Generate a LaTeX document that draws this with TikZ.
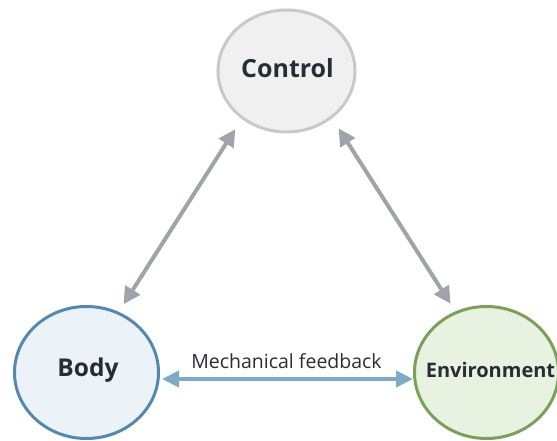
\documentclass[tikz,border=0pt]{standalone}
\usepackage{fontspec}
\setmainfont{Open Sans}
\usetikzlibrary{shapes.geometric,arrows.meta}

\definecolor{ctrlfill}{RGB}{240,240,241}
\definecolor{ctrlline}{RGB}{200,201,204}
\definecolor{bodyfill}{RGB}{236,243,248}
\definecolor{bodyline}{RGB}{84,136,174}
\definecolor{envfill}{RGB}{232,242,224}
\definecolor{envline}{RGB}{122,160,92}
\definecolor{linkgray}{RGB}{160,164,170}
\definecolor{linkblue}{RGB}{125,170,200}
\definecolor{ink}{RGB}{40,44,52}

\tikzset{
  hub/.style={ellipse, line width=3pt, inner sep=0pt},
  hubtext/.style={text=ink, inner sep=0pt, font=\bfseries\fontsize{#1}{#1}\selectfont},
  graylink/.style={draw=linkgray, line width=4pt,
              {Triangle[length=17pt,width=17pt]}-{Triangle[length=17pt,width=17pt]}},
  bluelink/.style={draw=linkblue, line width=4pt,
              {Triangle[length=17pt,width=16pt]}-{Triangle[length=17pt,width=16pt]}},
}

\begin{document}
\begin{tikzpicture}[x=1pt,y=-1pt]
  \useasboundingbox (0,0) rectangle (557,441);
  \clip (0,0) rectangle (557,441);

  % the three hubs
  \node[hub, draw=ctrlline, fill=ctrlfill, minimum width=137pt, minimum height=122pt]
    (ctrl) at (286.5,71) {};
  \node[hub, draw=bodyline, fill=bodyfill, minimum width=144pt, minimum height=132pt]
    (body) at (86.5,372.5) {};
  \node[hub, draw=envline, fill=envfill, minimum width=144pt, minimum height=132pt]
    (env) at (486.5,372.5) {};

  % hub names
  \node[hubtext=25]   (ctrltext) at ([xshift=1pt,yshift=2.7pt]ctrl.center) {Control};
  \node[hubtext=24.5] (bodytext) at ([xshift=1.5pt,yshift=2.5pt]body.center) {Body};
  \node[hubtext=20]   (envtext)  at ([xshift=4pt,yshift=2.2pt]env.center) {Environment};

  % links between the hubs
  \draw[graylink, shorten <=12pt, shorten >=9pt] (ctrl.227) -- (body.62);
  \draw[graylink, shorten <=12pt, shorten >=9pt] (ctrl.314) -- (env.117);
  \draw[bluelink, shorten <=2pt] ([yshift=-6.5pt]body.east) -- ([yshift=-6.5pt]env.west)
    node[midway, anchor=base, yshift=11pt, text=ink, font=\fontsize{19.5}{20}\selectfont] (fb) {Mechanical feedback};
\end{tikzpicture}
\end{document}
